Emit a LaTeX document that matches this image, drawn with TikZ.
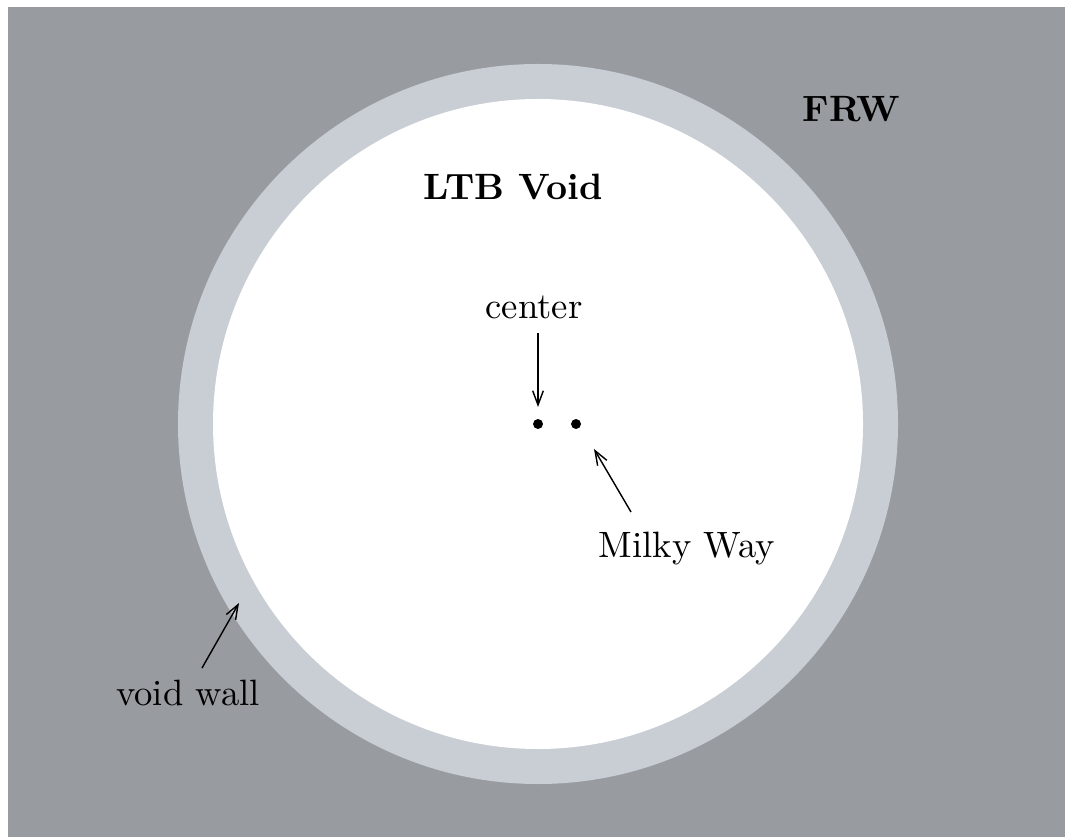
\documentclass[tikz,border=0pt]{standalone}
\usepackage{tikz}
\usetikzlibrary{arrows.meta}
\definecolor{frwgray}{RGB}{152,155,160}
\definecolor{wallgray}{RGB}{201,206,213}
\tikzset{every picture/.style={line width=0.5pt},
  dot/.style={circle,fill=black,inner sep=0pt,minimum size=2.8pt},
  lbl/.style={inner sep=1pt,font=\fontsize{10.3pt}{12pt}\selectfont},
  pointer/.style={-{Straight Barb[length=4pt,width=3pt]},line width=0.4pt}}

\begin{document}
\begin{tikzpicture}[x=0.281pt,y=-0.281pt]
\useasboundingbox (0,0) rectangle (1065,837);
\fill[frwgray] (8,7) rectangle (1065,837);
\fill[wallgray] (538,424) circle (360);
\fill[white] (538,424) circle (325);
\node[lbl] (frw) at (851,109) {\bfseries FRW};
\node[lbl] (ltb) at (513,187) {\bfseries LTB Void};
\node[dot] (cdot) at (538,424) {};
\node[dot] (mdot) at (576,424) {};
\node[lbl] (center) at (534,307) {center};
\node[lbl] (milky) at (687,549) {Milky Way};
\node[lbl] (wall) at (188,693) {void wall};
\coordinate (ctail) at (538,333);
\coordinate (ctip) at (538,407);
\coordinate (mtail) at (631,512);
\coordinate (mtip) at (594,449);
\coordinate (wtail) at (202,668);
\coordinate (wtip) at (239,603);
\draw[pointer] (ctail) -- (ctip);
\draw[pointer] (mtail) -- (mtip);
\draw[pointer] (wtail) -- (wtip);
\end{tikzpicture}
\end{document}
